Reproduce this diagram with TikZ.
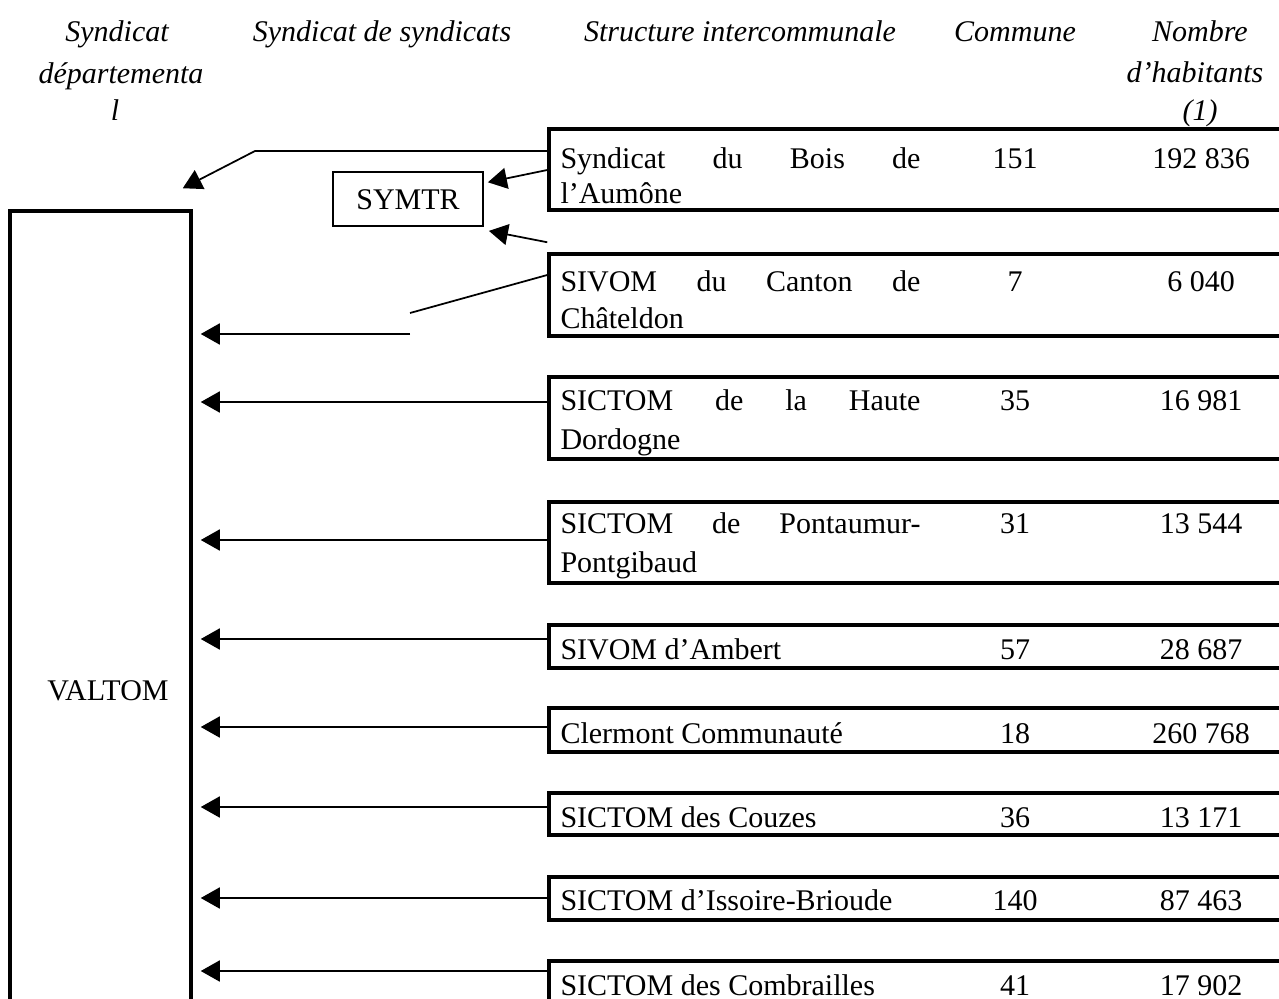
\documentclass[tikz,border=0pt]{standalone}
\usepackage{fontspec}
\setmainfont{Liberation Serif}
\usetikzlibrary{arrows.meta,fit,calc}
\newcommand{\mainsz}{\fontsize{12}{14}\selectfont}
\newcommand{\jline}[1]{\makebox[144pt][l]{#1}}
\begin{document}
\begin{tikzpicture}[x=0.4pt,y=-0.4pt,
  font=\mainsz,
  txt/.style={inner sep=0pt, text height=8pt, text depth=0pt},
  hd/.style={txt, font=\mainsz\itshape},
  rowbox/.style={draw, line width=1.4pt, inner sep=0pt},
  symbox/.style={draw, line width=0.7pt, inner sep=0pt},
  ln/.style={line width=0.7pt},
  arr/.style={ln, -{Triangle[length=7.6pt,width=8.4pt]}},
  toval/.style={shorten >=3.2pt},
]
\useasboundingbox (0,0) rectangle (1279,999);
\clip (0,0) rectangle (1279,999);

% headers
\node[hd] (h1a) at (117,32) {Syndicat};
\node[hd] (h1b) at (121,74) {départementa};
\node[hd] (h1c) at (115,110) {l};
\node[hd] (h2) at (382,32) {Syndicat de syndicats};
\node[hd] (h3) at (740,32) {Structure intercommunale};
\node[hd] (h4) at (1015,32) {Commune};
\node[hd] (h5a) at (1200,32) {Nombre};
\node[hd] (h5b) at (1195,73) {d’habitants};
\node[hd] (h5c) at (1200,110) {(1)};

% departmental syndicate
\node[rowbox, fit={(10,211) (191,1100)}] (valtom) {};
\node[txt] (valtomlbl) at (108,690) {VALTOM};

% syndicate of syndicates
\node[symbox, fit={(333,172) (483,226)}] (symtr) {};
\node[txt] (symtrlbl) at (408,199) {SYMTR};

% structures
\node[rowbox, fit={(549,129) (1300,210)}] (b1) {};
\node[txt, anchor=west] (b1t) at (560,158) {\jline{Syndicat\hfill du\hfill Bois\hfill de}};
\node[txt, anchor=west] (b1u) at (560,193) {l’Aumône};
\node[txt] (b1c) at (1015,158) {151};
\node[txt] (b1h) at (1201,158) {192 836};

\node[rowbox, fit={(549,254) (1300,336)}] (b2) {};
\node[txt, anchor=west] (b2t) at (560,281) {\jline{SIVOM\hfill du\hfill Canton\hfill de}};
\node[txt, anchor=west] (b2u) at (560,318) {Châteldon};
\node[txt] (b2c) at (1015,281) {7};
\node[txt] (b2h) at (1201,281) {6 040};

\node[rowbox, fit={(549,377) (1300,459)}] (b3) {};
\node[txt, anchor=west] (b3t) at (560,400) {\jline{SICTOM\hfill de\hfill la\hfill Haute}};
\node[txt, anchor=west] (b3u) at (560,439) {Dordogne};
\node[txt] (b3c) at (1015,400) {35};
\node[txt] (b3h) at (1201,400) {16 981};

\node[rowbox, fit={(549,502) (1300,583)}] (b4) {};
\node[txt, anchor=west] (b4t) at (560,523) {\jline{SICTOM\hfill de\hfill Pontaumur-}};
\node[txt, anchor=west] (b4u) at (560,562) {Pontgibaud};
\node[txt] (b4c) at (1015,523) {31};
\node[txt] (b4h) at (1201,523) {13 544};

\node[rowbox, fit={(549,625) (1300,668)}] (b5) {};
\node[txt, anchor=west] (b5t) at (560,649) {SIVOM d’Ambert};
\node[txt] (b5c) at (1015,649) {57};
\node[txt] (b5h) at (1201,649) {28 687};

\node[rowbox, fit={(549,708) (1300,752)}] (b6) {};
\node[txt, anchor=west] (b6t) at (560,733) {Clermont Communauté};
\node[txt] (b6c) at (1015,733) {18};
\node[txt] (b6h) at (1201,733) {260 768};

\node[rowbox, fit={(549,793) (1300,835)}] (b7) {};
\node[txt, anchor=west] (b7t) at (560,817) {SICTOM des Couzes};
\node[txt] (b7c) at (1015,817) {36};
\node[txt] (b7h) at (1201,817) {13 171};

\node[rowbox, fit={(549,877) (1300,920)}] (b8) {};
\node[txt, anchor=west] (b8t) at (560,900) {SICTOM d’Issoire-Brioude};
\node[txt] (b8c) at (1015,900) {140};
\node[txt] (b8h) at (1201,900) {87 463};

\node[rowbox, fit={(549,961) (1300,1100)}] (b9) {};
\node[txt, anchor=west] (b9t) at (560,985) {SICTOM des Combrailles};
\node[txt] (b9c) at (1015,985) {41};
\node[txt] (b9h) at (1201,985) {17 902};

% connectors
\draw[arr] (b1.west |- 0,151) -- (255,151) -- ($(valtom.north east)+(-10,-21)$);
\draw[arr] (b1.west |- 0,170) -- ($(symtr.north east)!0.2!(symtr.south east)+(4,0)$);
\draw[arr] ($(b2.north west)+(0,-10)$) -- ($(symtr.south east)+(5,4)$);

\coordinate (k1) at (410,313);
\coordinate (k2) at (410,334);
\draw[ln] (b2.west |- 0,275) -- (k1);
\draw[arr,toval] (k2) -- (valtom.east |- k2);

\draw[arr,toval] (b3.west |- 0,402) -- (valtom.east |- 0,402);
\draw[arr,toval] (b4.west |- 0,540) -- (valtom.east |- 0,540);
\draw[arr,toval] (b5.west |- 0,639) -- (valtom.east |- 0,639);
\draw[arr,toval] (b6.west |- 0,727) -- (valtom.east |- 0,727);
\draw[arr,toval] (b7.west |- 0,807) -- (valtom.east |- 0,807);
\draw[arr,toval] (b8.west |- 0,898) -- (valtom.east |- 0,898);
\draw[arr,toval] (b9.west |- 0,971) -- (valtom.east |- 0,971);
\end{tikzpicture}
\end{document}
